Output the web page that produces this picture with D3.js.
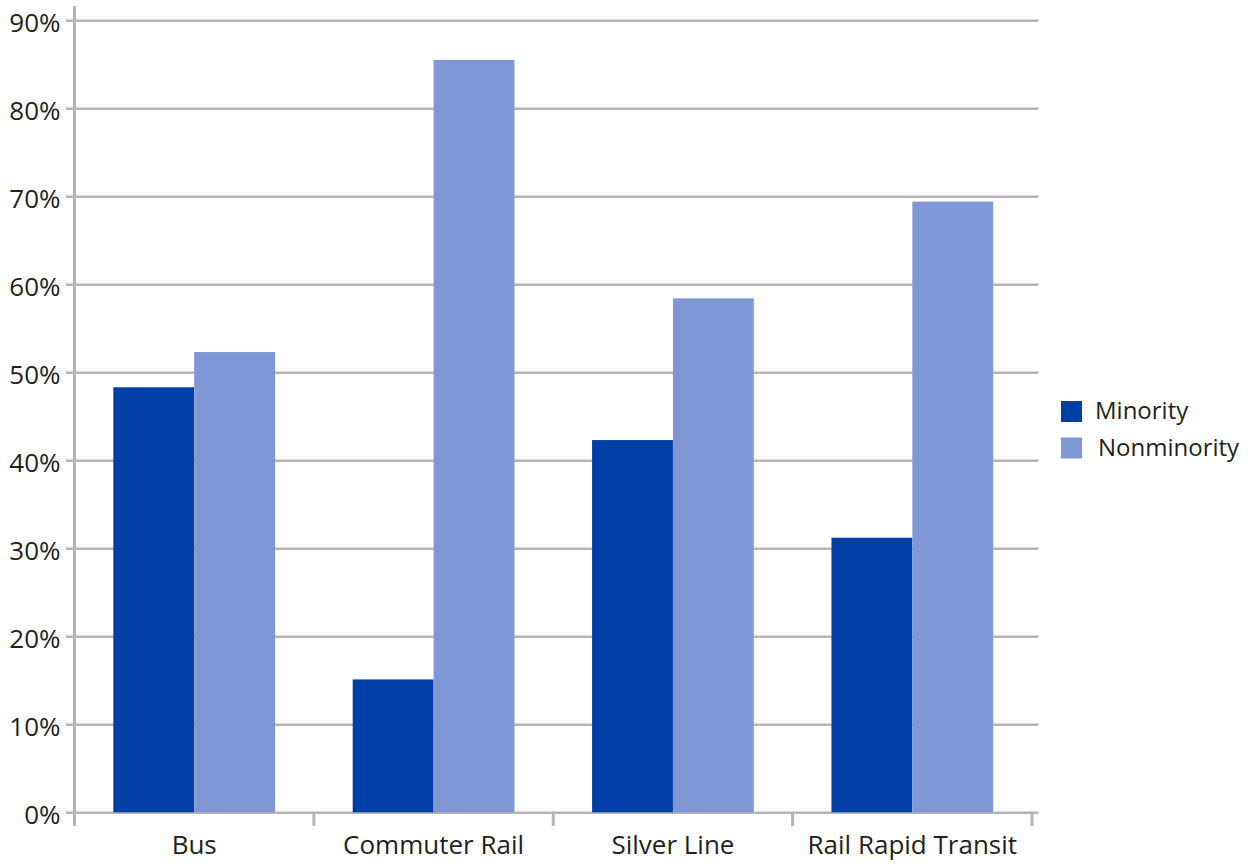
<!DOCTYPE html>
<html>
<head>
<meta charset="utf-8">
<script src="https://cdn.jsdelivr.net/npm/d3@7"></script>
<style>
  html, body { margin: 0; padding: 0; background: #fff; }
  svg text { font-family: "Open Sans", "Noto Sans", sans-serif; fill: #231f20; }
</style>
</head>
<body>
<svg id="chart" width="1250" height="865"></svg>
<script>
// Share of riders by mode and group (percent)
const categories = ["Bus", "Commuter Rail", "Silver Line", "Rail Rapid Transit"];
const seriesNames = ["Minority", "Nonminority"];
const minority = [48.3, 15.1, 42.3, 31.2];
const nonminority = [52.3, 85.5, 58.4, 69.4];
const yTicks = [0, 10, 20, 30, 40, 50, 60, 70, 80, 90];
const colors = ["#0040a6", "#7f98d5"];

const svg = d3.select("#chart");
const gridColor = "#b4b4b8";

const plotLeft = 74.5, plotRight = 1032, plotTop = 20.3, plotBottom = 812.3;

const x0 = d3.scaleBand().domain(categories).range([plotLeft, plotRight]).padding(0);
const x1 = d3.scaleBand().domain(seriesNames).range([0, x0.bandwidth()])
  .paddingInner(0).paddingOuter(0.48);
const y = d3.scaleLinear().domain([0, 90]).range([plotBottom, plotTop]);
const color = d3.scaleOrdinal().domain(seriesNames).range(colors);

// Horizontal gridlines with left tick stubs and labels
const yAxis = d3.axisLeft(y)
  .tickValues(yTicks)
  .tickFormat(d => d + "%")
  .tickSize(-(1038.5 - plotLeft))
  .tickPadding(14);

const gy = svg.append("g")
  .attr("transform", `translate(${plotLeft},0)`)
  .call(yAxis);
gy.select(".domain").remove();
gy.selectAll(".tick line")
  .attr("x1", -8.5)
  .attr("stroke", gridColor)
  .attr("stroke-width", 2.5);
gy.selectAll(".tick text")
  .attr("font-size", 26)
  .attr("dy", "0.43em")
  .attr("x", -14)
  .style("font-family", '"Open Sans", "Noto Sans", sans-serif')
  .style("fill", "#231f20");

// Bars
const rows = categories.map((c, i) => ({ cat: c, values: [minority[i], nonminority[i]] }));

const groups = svg.append("g").selectAll("g")
  .data(rows)
  .join("g")
  .attr("transform", d => `translate(${x0(d.cat)},0)`);

groups.selectAll("rect")
  .data(d => seriesNames.map((s, j) => ({ key: s, value: d.values[j] })))
  .join("rect")
  .attr("x", d => x1(d.key))
  .attr("width", x1.bandwidth())
  .attr("y", d => y(d.value))
  .attr("height", d => y(0) - y(d.value))
  .attr("fill", d => color(d.key));

// Vertical axis line
svg.append("line")
  .attr("x1", plotLeft).attr("x2", plotLeft)
  .attr("y1", 6).attr("y2", 826)
  .attr("stroke", gridColor)
  .attr("stroke-width", 3);

// Bottom category axis with separator ticks
const xAxis = d3.axisBottom(x0).tickSize(0).tickPadding(23);
const gx = svg.append("g")
  .attr("transform", `translate(0,${plotBottom})`)
  .call(xAxis);
gx.select(".domain").remove();
gx.selectAll(".tick text")
  .attr("font-size", 26)
  .attr("dy", "0.72em")
  .style("font-family", '"Open Sans", "Noto Sans", sans-serif')
  .style("fill", "#231f20");

svg.append("g").selectAll("line")
  .data(categories)
  .join("line")
  .attr("x1", d => x0(d) + x0.bandwidth())
  .attr("x2", d => x0(d) + x0.bandwidth())
  .attr("y1", plotBottom)
  .attr("y2", 826)
  .attr("stroke", gridColor)
  .attr("stroke-width", 3);

// Legend
const legend = svg.append("g").attr("transform", "translate(1061,401)");
const legendItems = legend.selectAll("g")
  .data(seriesNames)
  .join("g")
  .attr("transform", (d, i) => `translate(0,${i * 36.5})`);
legendItems.append("rect")
  .attr("width", 21).attr("height", 21)
  .attr("fill", d => color(d));
legendItems.append("text")
  .attr("x", (d, i) => i === 0 ? 34 : 37)
  .attr("y", 18)
  .attr("font-size", 24)
  .text(d => d);
</script>
</body>
</html>
